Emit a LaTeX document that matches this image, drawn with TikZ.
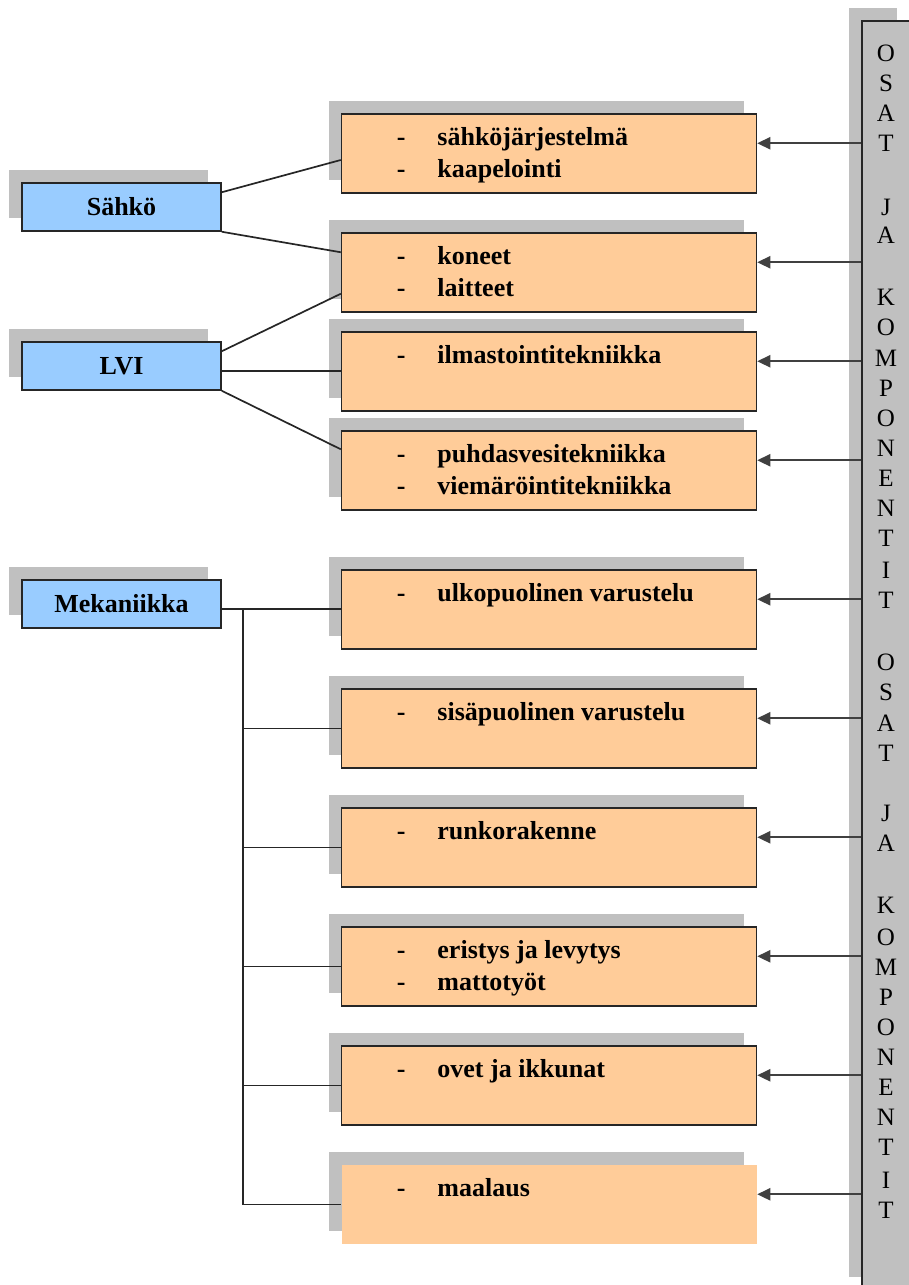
\documentclass[tikz,border=0pt]{standalone}
\usepackage{fontspec}
\setmainfont{Liberation Serif}
\usetikzlibrary{calc,arrows.meta,shadows}
\definecolor{boxorange}{HTML}{FFCC99}
\definecolor{boxblue}{HTML}{99CCFF}
\definecolor{shgray}{HTML}{C0C0C0}
\definecolor{linegray}{HTML}{404040}
\newcommand\myitem[4]{%
  \node[dashlbl] (#1d) at ($(#2.north west)+(60.5,{32.5+32*#3})$) {-};
  \node[itemlbl] (#1t) at ($(#2.north west)+(96.5,{32.5+32*#3})$) {#4};}
\begin{document}
\begin{tikzpicture}[x=1pt,y=-1pt,
  shadowed/.style={drop shadow={shadow xshift=-13pt,shadow yshift=13pt,fill=shgray,opacity=1}},
  obox/.style={shadowed,rectangle,fill=boxorange,draw=black!85,line width=1.5pt,minimum width=415pt,minimum height=79pt,inner sep=0pt},
  bbox/.style={shadowed,rectangle,fill=boxblue,draw=black!85,line width=1.5pt,minimum width=199pt,minimum height=48pt,inner sep=0pt,font=\fontsize{26}{31}\selectfont\bfseries,text height=20pt,text depth=4pt},
  dashlbl/.style={anchor=base,inner sep=0pt,font=\fontsize{26}{31}\selectfont\bfseries},
  itemlbl/.style={anchor=base west,inner sep=0pt,font=\fontsize{26}{31}\selectfont\bfseries},
  link/.style={draw=black!85,line width=1.7pt},
  feed/.style={draw=linegray,line width=2.3pt,-{Triangle[length=13pt,width=12pt]}},
  barletter/.style={anchor=base,inner sep=0pt,font=\fontsize{25}{30}\selectfont}
]
\useasboundingbox (0,0) rectangle (909,1285);

% vertical bar
\node[shadowed,rectangle,fill=shgray,draw=black!85,line width=1.5pt,minimum width=48pt,minimum height=1269pt,inner sep=0pt] (bar) at (886,655.5) {};
\foreach \ch/\yy in {O/53,S/83,A/113,T/143,J/207,A/235,K/297,O/327,M/358,P/388,O/418,N/448,E/478,N/508,T/538,I/570,T/600,O/662,S/692,A/723,T/753,J/813,A/843,K/905,O/937,M/967,P/997,O/1027,N/1057,E/1087,N/1117,T/1147,I/1180,T/1210}
  \node[barletter] (c\yy) at (886,\yy+8.5) {\ch};

% blue boxes
\node[bbox] (sahko) at (121.5,207) {Sähkö};
\node[bbox] (lvi) at (121.5,366) {LVI};
\node[bbox] (mek) at (121.5,604) {Mekaniikka};

% orange boxes
\node[obox] (b1) at (549,153.5) {};
\node[obox] (b2) at (549,272.5) {};
\node[obox] (b3) at (549,371.5) {};
\node[obox] (b4) at (549,470.5) {};
\node[obox] (b5) at (549,609.5) {};
\node[obox] (b6) at (549,728.5) {};
\node[obox] (b7) at (549,847.5) {};
\node[obox] (b8) at (549,966.5) {};
\node[obox] (b9) at (549,1085.5) {};
\node[obox,draw=none] (b10) at (549,1204.5) {};

\myitem{i1a}{b1}{0}{sähköjärjestelmä}
\myitem{i1b}{b1}{1}{kaapelointi}
\myitem{i2a}{b2}{0}{koneet}
\myitem{i2b}{b2}{1}{laitteet}
\myitem{i3a}{b3}{0}{ilmastointitekniikka}
\myitem{i4a}{b4}{0}{puhdasvesitekniikka}
\myitem{i4b}{b4}{1}{viemäröintitekniikka}
\myitem{i5a}{b5}{0}{ulkopuolinen varustelu}
\myitem{i6a}{b6}{0}{sisäpuolinen varustelu}
\myitem{i7a}{b7}{0}{runkorakenne}
\myitem{i8a}{b8}{0}{eristys ja levytys}
\myitem{i8b}{b8}{1}{mattotyöt}
\myitem{i9a}{b9}{0}{ovet ja ikkunat}
\myitem{i10a}{b10}{0}{maalaus}

% connectors from Sähkö and LVI
\draw[link] ($(sahko.north east)+(0,10)$) -- ($(b1.west)+(0,6.5)$);
\draw[link] (sahko.south east) -- ($(b2.north west)+(0,20)$);
\draw[link] ($(lvi.north east)+(0,10)$) -- ($(b2.south west)+(0,-19)$);
\coordinate (l3) at ($(lvi.north east)+(0,30)$);
\draw[link] (l3) -- (l3 -| b3.west);
\draw[link] (lvi.south east) -- ($(b4.north west)+(0,19)$);

% Mekaniikka tree
\coordinate (m0) at ($(mek.north east)+(0,30)$);
\coordinate (trunk) at ($(mek.north east)+(21,30)$);
\draw[link] (m0) -- (m0 -| b5.west);
\draw[link] (trunk) |- (b10.west);
\foreach \b in {b6,b7,b8,b9}
  \draw[link] (trunk |- \b.west) -- (\b.west);

% feed arrows from the bar
\foreach \b in {b1,b2,b3,b4,b5,b6,b7,b8,b9,b10}{
  \coordinate (p\b) at ($(\b.north east)+(0,30)$);
  \draw[feed] (p\b -| bar.west) -- (p\b);
}
\end{tikzpicture}
\end{document}
